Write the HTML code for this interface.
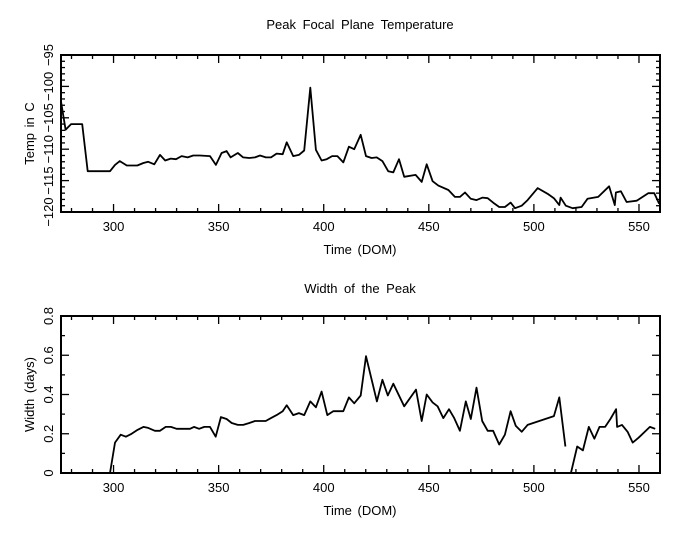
<!DOCTYPE html>
<html><head><meta charset="utf-8"><style>
body{margin:0;background:#fff;}
svg{display:block;font-family:"Liberation Sans",sans-serif;}
text{fill:#000;font-size:13px;}
</style></head><body>
<svg id="chart" width="681" height="540"></svg>
<script>
const tempDays=[275,277.2,279.8,285.1,287.7,298.3,300.7,303,306.3,311.3,314.2,316.5,319.4,322.1,324.6,327.2,329.7,332.4,335.3,337.9,341.1,345.9,348.7,351.4,353.8,355.7,359.1,361.7,364.6,367.3,369.7,372.5,374.9,377.6,380.5,382.4,385.5,388.2,390.7,393.6,396.3,399,401.4,404,406.5,409.3,412,414.5,417.6,420.1,422.8,425.2,427.9,430.7,433.1,435.8,438.3,443.7,446.6,449,451.8,454.5,459.3,462.4,464.8,467.2,470,472.7,475.6,478,480.6,483.5,486.2,488.9,491,494.2,497,501.8,506.5,509.5,512.1,512.7,515.2,518.4,522.7,525.5,530.6,535.8,538.5,539,541.4,544.1,548.9,554.4,557.3,559.6];
const tempVals=[-102.4,-106.9,-106,-106,-113.5,-113.5,-112.5,-111.9,-112.6,-112.6,-112.2,-112,-112.4,-110.9,-111.8,-111.5,-111.6,-111.1,-111.3,-111,-111,-111.1,-112.5,-110.6,-110.3,-111.3,-110.6,-111.3,-111.4,-111.3,-111,-111.3,-111.3,-110.7,-110.8,-108.9,-111.1,-110.9,-110.2,-100.2,-110.1,-111.8,-111.6,-111.1,-111.1,-112.1,-109.6,-110,-107.7,-111.1,-111.4,-111.3,-111.9,-113.5,-113.7,-111.6,-114.4,-114.1,-115.2,-112.4,-115.1,-115.8,-116.5,-117.6,-117.6,-116.9,-117.9,-118.1,-117.7,-117.8,-118.5,-119.2,-119.2,-118.5,-119.4,-119,-118.1,-116.2,-117.1,-117.8,-118.9,-117.7,-119,-119.4,-119.2,-117.9,-117.6,-115.9,-118.9,-116.9,-116.7,-118.4,-118.2,-117,-117,-118.7];
const widthDays=[298.3,300.7,303.4,305.9,308.6,311.5,314.2,316.5,319.7,322.1,324.8,327.3,330,336.4,338.3,340.7,343.2,345.9,348.6,351.1,353.8,356.2,359.1,361.7,364.6,367.3,372.4,374.9,377.6,380.5,382.4,385.5,388.2,390.7,393.6,396.3,399,401.7,404.5,409.3,412,414.5,417.6,420.1,425.3,427.9,430.5,433.1,438.3,443.9,446.6,449,451.8,454.2,456.9,459.6,462.1,464.8,467.6,470,472.7,475.4,478,480.6,483.5,486.2,488.9,491.4,494.2,497,509.5,512.1,515,516,517.2,520.6,523.3,526.1,528.8,531.2,533.9,536.4,539.1,539.6,541.9,544.6,547,549.8,555.2,557.7];
const widthVals=[0,0.155,0.195,0.185,0.2,0.22,0.235,0.23,0.215,0.215,0.235,0.235,0.225,0.225,0.235,0.225,0.235,0.235,0.185,0.285,0.275,0.255,0.245,0.245,0.255,0.265,0.265,0.28,0.295,0.315,0.345,0.295,0.305,0.295,0.365,0.335,0.415,0.295,0.315,0.315,0.385,0.355,0.395,0.595,0.365,0.475,0.395,0.455,0.34,0.425,0.265,0.4,0.36,0.34,0.28,0.325,0.28,0.215,0.365,0.275,0.435,0.265,0.215,0.215,0.145,0.195,0.315,0.24,0.21,0.245,0.29,0.385,0.135,null,-0.02,0.135,0.115,0.235,0.175,0.235,0.235,0.275,0.325,0.235,0.245,0.21,0.155,0.18,0.235,0.225];
const xTicks=[300,350,400,450,500,550];
const tempTicks=[-120,-115,-110,-105,-100,-95];
const widthTicks=[0,0.2,0.4,0.6,0.8];

const NS='http://www.w3.org/2000/svg';
const svg=document.getElementById('chart');
function mk(tag,attrs,parent){const e=document.createElementNS(NS,tag);for(const k in attrs)e.setAttribute(k,attrs[k]);(parent||svg).appendChild(e);return e;}
function txt(s,x,y,attrs,name){const t=mk('text',Object.assign({x:x,y:y,'text-anchor':'middle'},attrs||{}));t.textContent=s;


return t;}

function panel(cfg){
  const L=61,R=660,T=cfg.top,B=cfg.bottom;
  const xs=v=>L+(v-275)/(560-275)*(R-L);
  const ys=v=>B-(v-cfg.ymin)/(cfg.ymax-cfg.ymin)*(B-T);
  const g=mk('g',{});
  
  
  const cp=mk('clipPath',{id:cfg.name+'-clip'},g);
  mk('rect',{x:L,y:T,width:R-L,height:B-T},cp);
  for(let v=280;v<=560;v+=10){const maj=v%50===0;const len=maj?8:4;const x=xs(v);
    mk('line',{x1:x,y1:B,x2:x,y2:B-len,stroke:'#000','stroke-width':1.3},g);
    mk('line',{x1:x,y1:T,x2:x,y2:T+len,stroke:'#000','stroke-width':1.3},g);}
  for(let i=0;i<=cfg.nminor;i++){const v=cfg.ymin+i*(cfg.ymax-cfg.ymin)/cfg.nminor;const maj=i%cfg.per===0;const len=maj?8:4;const y=ys(v);
    mk('line',{x1:L,y1:y,x2:L+len,y2:y,stroke:'#000','stroke-width':1.3},g);
    mk('line',{x1:R,y1:y,x2:R-len,y2:y,stroke:'#000','stroke-width':1.3},g);}
  const frame=mk('rect',{x:L,y:T,width:R-L,height:B-T,fill:'none',stroke:'#000','stroke-width':2},g);
  
  
  xTicks.forEach(v=>{txt(String(v),xs(v),B+19,{'font-size':'14px'},'x-tick-label');});
  cfg.yticks.forEach(v=>{const y=ys(v);const s=cfg.fmt(v);
    txt(s,53,y,{transform:'rotate(-90 53 '+y+')','font-size':'14px'},'y-tick-label');});
  txt(cfg.title,360,cfg.titleY,{'word-spacing':'3px'},cfg.name+'-title');
  txt('Time (DOM)',360,B+42,{'word-spacing':'2px'},'x-axis-title');
  const ay=(T+B)/2;
  txt(cfg.ylabel,34,ay,{transform:'rotate(-90 34 '+ay+')','word-spacing':'2px'},'y-axis-title');
  let d='',pen=false;
  cfg.days.forEach((x,i)=>{const v=cfg.vals[i];if(v===null){pen=false;return;}
    d+=(pen?'L':'M')+xs(x).toFixed(1)+' '+ys(v).toFixed(1)+' ';pen=true;});
  const p=mk('path',{d:d,fill:'none',stroke:'#000','stroke-width':1.8,'stroke-linejoin':'round','clip-path':'url(#'+cfg.name+'-clip)'},g);
  
  
}
panel({name:'temp-panel',top:55,bottom:212,ymin:-120,ymax:-95,nminor:25,per:5,yticks:tempTicks,fmt:v=>String(v).replace('-','\u2212'),
  title:'Peak Focal Plane Temperature',titleY:29,ylabel:'Temp in C',days:tempDays,vals:tempVals});
panel({name:'width-panel',top:316,bottom:473,ymin:0,ymax:0.8,nminor:8,per:2,yticks:widthTicks,fmt:v=>v===0?'0':v.toFixed(1),
  title:'Width of the Peak',titleY:293,ylabel:'Width (days)',days:widthDays,vals:widthVals});
</script>
</body></html>
